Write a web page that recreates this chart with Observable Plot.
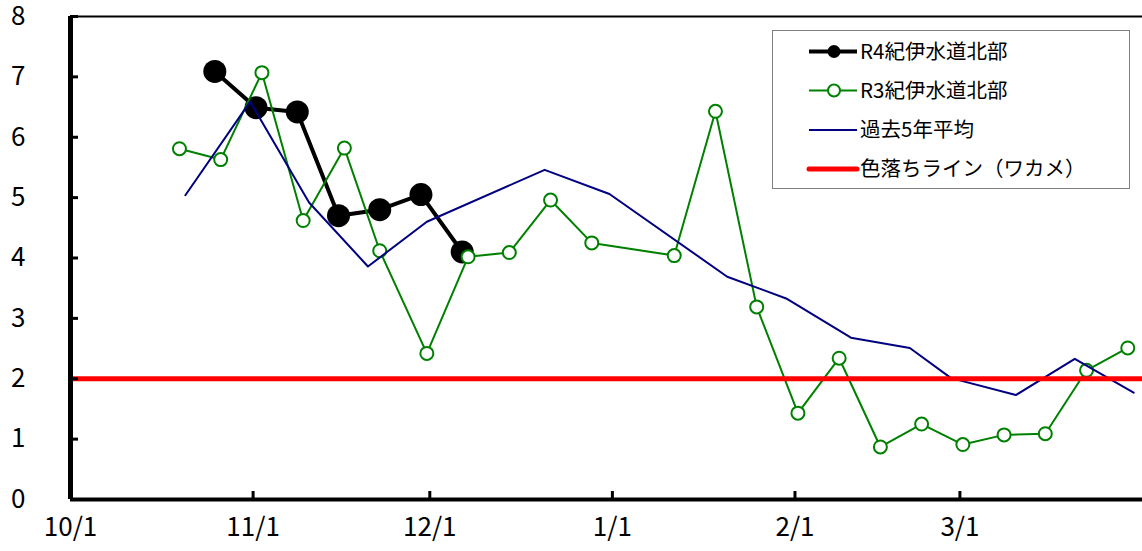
<!DOCTYPE html>
<html><head><meta charset="utf-8">
<script src="https://cdn.jsdelivr.net/npm/d3@7"></script>
<script src="https://cdn.jsdelivr.net/npm/@observablehq/plot@0.6"></script>
<style>
body{margin:0;background:#fff;}
#chart{position:relative;width:1142px;height:551px;}
svg text.ticklbl{font-size:26px !important;}
</style>
</head><body><div id="chart"></div>
<script>
// R4 (2022-23 season)
const r4Dates = ["10/25","11/1","11/8","11/15","11/22","11/29","12/6"];
const r4Values = [7.09,6.49,6.42,4.70,4.80,5.05,4.10];
// R3 (previous season, plotted on same month/day axis)
const r3Dates = ["10/19","10/26","11/2","11/9","11/16","11/22","11/30","12/7","12/14","12/21","12/28","1/11","1/18","1/25","2/1","2/8","2/15","2/22","3/1","3/8","3/15","3/22","3/29"];
const r3Values = [5.81,5.63,7.07,4.62,5.82,4.12,2.42,4.02,4.09,4.96,4.25,4.04,6.43,3.19,1.43,2.34,0.87,1.25,0.91,1.07,1.09,2.14,2.51];
// past 5-year average
const avgDates = ["10/20","10/31","11/10","11/20","11/30","12/20","12/31","1/20","1/30","2/10","2/20","2/27","3/10","3/20","3/30"];
const avgValues = [5.04,6.59,4.92,3.86,4.60,5.46,5.06,3.69,3.33,2.68,2.51,2.01,1.73,2.33,1.77];
const threshold = 2;
const xTickLabels = ["10/1","11/1","12/1","1/1","2/1","3/1"];
const yTicks = [0,1,2,3,4,5,6,7,8];
const legendLabels = ["R4紀伊水道北部","R3紀伊水道北部","過去5年平均","色落ちライン（ワカメ）"];
const colors = {r4:"#000000", r3:"#008000", avg:"#000080", line:"#ff0000"};

function seasonDate(md, hour = 12) {
  const [m, d] = md.split("/").map(Number);
  const y = m >= 10 ? 2022 : 2023;
  return new Date(Date.UTC(y, m - 1, d, hour));
}
const r4 = r4Dates.map((d, i) => ({date: seasonDate(d), value: r4Values[i]}));
const r3 = r3Dates.map((d, i) => ({date: seasonDate(d), value: r3Values[i]}));
const avg = avgDates.map((d, i) => ({date: seasonDate(d), value: avgValues[i]}));
const xTicks = xTickLabels.map(d => seasonDate(d, 0));
const start = seasonDate("10/1", 0), end = seasonDate("4/1", 0);

const font = '"Noto Sans CJK JP", "Noto Sans", sans-serif';
const W = 1142, H = 551, mL = 70, mR = 0, mT = 16, mB = 52;

const plot = Plot.plot({
  width: W, height: H,
  marginLeft: mL, marginRight: mR, marginTop: mT, marginBottom: mB,
  style: {fontFamily: font, fontSize: "24px", color: "black", background: "white", overflow: "visible"},
  x: {type: "utc", domain: [start, end]},
  y: {domain: [0, 8]},
  marks: [
    Plot.line(r4, {x: "date", y: "value", stroke: colors.r4, strokeWidth: 4}),
    Plot.dot(r4, {x: "date", y: "value", r: 11.5, fill: colors.r4, stroke: null}),
    Plot.line(r3, {x: "date", y: "value", stroke: colors.r3, strokeWidth: 2}),
    Plot.dot(r3, {x: "date", y: "value", r: 6.5, fill: "white", stroke: colors.r3, strokeWidth: 2}),
    Plot.line(avg, {x: "date", y: "value", stroke: colors.avg, strokeWidth: 2}),
    Plot.ruleY([threshold], {stroke: colors.line, strokeWidth: 5}),
    // frame lines
    Plot.ruleY([8], {stroke: "black", strokeWidth: 2}),
    Plot.ruleY([0], {stroke: "black", strokeWidth: 4}),
    Plot.ruleX([start], {stroke: "black", strokeWidth: 5}),
    // inward ticks
    Plot.tickX(xTicks, {x: d => d, stroke: "black", strokeWidth: 3, insetTop: (H - mT - mB) - 8}),
    Plot.tickY(yTicks, {y: d => d, stroke: "black", strokeWidth: 3, insetRight: (W - mL - mR) - 8}),
    // labels
    Plot.axisX({ticks: xTicks, tickSize: 0, tickPadding: 18, label: null,
      tickFormat: d => `${d.getUTCMonth() + 1}/${d.getUTCDate()}`}),
    Plot.axisY({ticks: yTicks, tickSize: 0, tickPadding: 45, label: null, tickFormat: d => String(d)})
  ]
});
document.getElementById("chart").appendChild(plot);

const svg = d3.select(plot);
// enforce tick-label font size
svg.selectAll("text").filter(function() { return !this.closest("g.legend"); }).classed("ticklbl", true);

// legend (inside plot area)
const g = svg.append("g").attr("class", "legend").attr("font-family", font).attr("font-size", 20.5).attr("text-anchor", "start");
g.append("rect").attr("x", 772.5).attr("y", 30.5).attr("width", 357).attr("height", 158)
  .attr("fill", "white").attr("stroke", "#808080").attr("stroke-width", 1);
const rowsY = [51.5, 90.5, 130, 169];
const x1 = 809, x2 = 857, cx = 834;
const items = [
  {stroke: colors.r4, sw: 4, marker: {r: 6.5, fill: colors.r4, stroke: "none"}},
  {stroke: colors.r3, sw: 2, marker: {r: 6, fill: "white", stroke: colors.r3}},
  {stroke: colors.avg, sw: 2, marker: null},
  {stroke: colors.line, sw: 5, marker: null}
];
items.forEach((it, i) => {
  const y = rowsY[i];
  g.append("line").attr("x1", x1).attr("x2", x2).attr("y1", y).attr("y2", y)
    .attr("stroke", it.stroke).attr("stroke-width", it.sw).attr("stroke-linecap", i === 3 ? "round" : "butt");
  if (it.marker) g.append("circle").attr("cx", cx).attr("cy", y).attr("r", it.marker.r)
    .attr("fill", it.marker.fill).attr("stroke", it.marker.stroke).attr("stroke-width", 2);
  g.append("text").attr("x", 860).attr("y", y).attr("dy", "0.35em").attr("fill", "black").text(legendLabels[i]);
});
</script>
</body></html>
